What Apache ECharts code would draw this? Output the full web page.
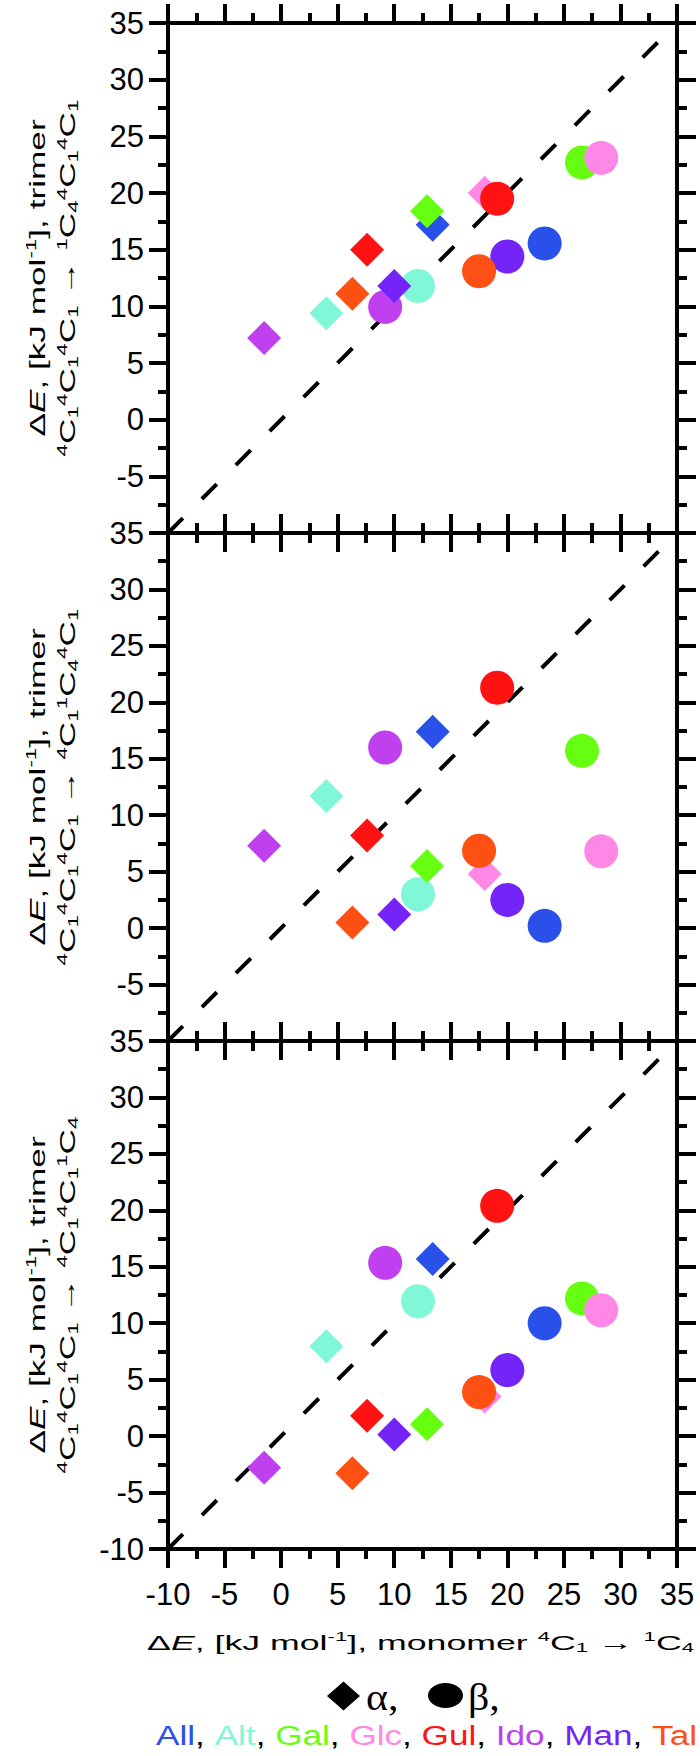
<!DOCTYPE html>
<html>
<head>
<meta charset="utf-8">
<script src="https://cdn.jsdelivr.net/npm/echarts@6/dist/echarts.min.js"></script>
<style>
html,body{margin:0;padding:0;background:#fff}
#c{width:700px;height:1756px}
</style>
</head>
<body>
<div id="c"></div>
<script>
// ---------------- data ----------------
const sugars = ['All', 'Alt', 'Gal', 'Glc', 'Gul', 'Ido', 'Man', 'Tal'];
const sugarColors = ['#2a50ea', '#80f8d8', '#66ff11', '#ff88e6', '#ff1212', '#c040f0', '#7424f6', '#ff5014'];

// x: monomer 4C1 -> 1C4 energy (kJ/mol)
const monomerAlpha = [13.4, 4.0, 12.9, 18.0, 7.6, -1.5, 10.0, 6.3];
const monomerBeta  = [23.3, 12.1, 26.6, 28.3, 19.1, 9.2, 20.0, 17.5];

// y: trimer 4C1 4C1 4C1 -> 1C4 4C1 4C1
const trimerAlpha1 = [17.2, 9.4, 18.4, 20.0, 15.0, 7.2, 11.8, 11.1];
const trimerBeta1  = [15.55, 11.8, 22.7, 23.1, 19.5, 9.95, 14.4, 13.1];
// y: trimer 4C1 4C1 4C1 -> 4C1 1C4 4C1
const trimerAlpha2 = [17.4, 11.7, 5.5, 4.8, 8.2, 7.3, 1.2, 0.5];
const trimerBeta2  = [0.2, 3.0, 15.7, 6.8, 21.3, 16.0, 2.5, 6.85];
// y: trimer 4C1 4C1 4C1 -> 4C1 4C1 1C4
const trimerAlpha3 = [15.7, 7.95, 1.05, 3.5, 1.8, -2.8, 0.15, -3.3];
const trimerBeta3  = [10.0, 11.95, 12.2, 11.15, 20.4, 15.35, 5.85, 3.9];

const startStates  = ['4C1', '4C1', '4C1'];
const targetStates = [['1C4', '4C1', '4C1'], ['4C1', '1C4', '4C1'], ['4C1', '4C1', '1C4']];

const axisMin = -10, axisMax = 35, axisStep = 5;
const diagonal = [[-10, -10], [35, 35]];

// ---------------- layout / style ----------------
const FONT = '"Liberation Sans", Arial, Helvetica, sans-serif';
const SERIF = '"Liberation Serif", "Times New Roman", serif';
const gridTops = [23, 533, 1041];
const gridHeights = [510, 508, 508];
const gridLeft = 168, gridRight = 23;

const panelsAlpha = [trimerAlpha1, trimerAlpha2, trimerAlpha3];
const panelsBeta = [trimerBeta1, trimerBeta2, trimerBeta3];

function richStyles(size) {
  const lh = Math.round(size * 1.15);
  const small = Math.round(size * 0.62);
  return {
    n: { fontSize: size, fontFamily: FONT, lineHeight: lh, fill: '#000' },
    i: { fontSize: size, fontFamily: FONT, fontStyle: 'italic', lineHeight: lh, fill: '#000' },
    sup: { fontSize: small, fontFamily: FONT, verticalAlign: 'top', lineHeight: Math.round(small * 1.1), fill: '#000' },
    sub: { fontSize: small, fontFamily: FONT, verticalAlign: 'bottom', lineHeight: Math.round(small * 0.75), fill: '#000' }
  };
}
function conf(c) { return '{sup|' + c[0] + '}{n|' + c[1] + '}{sub|' + c[2] + '}'; }
function confs(list) { return list.map(conf).join(''); }

const energyLabel = '{n|Δ}{i|E}{n|, [kJ mol}{sup|-1}{n|], }';
const yLine1 = energyLabel + '{n|trimer}';
const xNameText = energyLabel + '{n|monomer }' + conf('4C1') + '{n| → }' + conf('1C4');

function baseAxis(extra) {
  return Object.assign({
    type: 'value', min: axisMin, max: axisMax, interval: axisStep,
    axisLine: { show: true, onZero: false, lineStyle: { color: '#000', width: 4, cap: 'square' } },
    axisTick: { show: true, inside: false, length: 19, lineStyle: { color: '#000', width: 4 } },
    minorTick: { show: true, splitNumber: 2, length: 10, lineStyle: { color: '#000', width: 4 } },
    splitLine: { show: false },
    minorSplitLine: { show: false },
    axisLabel: { show: false }
  }, extra);
}

const grids = [], xAxes = [], yAxes = [], series = [], graphics = [];
for (let p = 0; p < 3; p++) {
  grids.push({ left: gridLeft, right: gridRight, top: gridTops[p], height: gridHeights[p], containLabel: false, outerBoundsMode: 'none' });
  xAxes.push(baseAxis({
    gridIndex: p, position: 'bottom',
    axisLabel: { show: p === 2, margin: 30, fontFamily: FONT, fontSize: 31, color: '#000' }
  }));
  xAxes.push(baseAxis({ gridIndex: p, position: 'top' }));
  yAxes.push(baseAxis({
    gridIndex: p, position: 'left',
    axisLabel: { show: true, margin: 24, fontFamily: FONT, fontSize: 31, color: '#000', showMinLabel: p === 2 }
  }));
  yAxes.push(baseAxis({ gridIndex: p, position: 'right' }));

  series.push({
    type: 'line', xAxisIndex: p * 2, yAxisIndex: p * 2, data: diagonal,
    symbol: 'none', silent: true, z: 2,
    lineStyle: { color: '#000', width: 4, type: [21, 27] }
  });
  for (let s = 0; s < sugars.length; s++) {
    series.push({
      name: sugars[s] + ' α', type: 'scatter', xAxisIndex: p * 2, yAxisIndex: p * 2,
      symbol: 'diamond', symbolSize: 34, silent: true, z: 3,
      itemStyle: { color: sugarColors[s], opacity: 1 },
      data: [[monomerAlpha[s], panelsAlpha[p][s]]]
    });
    series.push({
      name: sugars[s] + ' β', type: 'scatter', xAxisIndex: p * 2, yAxisIndex: p * 2,
      symbol: 'circle', symbolSize: 34, silent: true, z: 3,
      itemStyle: { color: sugarColors[s], opacity: 1 },
      data: [[monomerBeta[s], panelsBeta[p][s]]]
    });
  }

  const cy = gridTops[p] + gridHeights[p] / 2;
  graphics.push({
    type: 'text', x: 37, y: cy, rotation: Math.PI / 2, scaleX: 1.6, silent: true,
    style: { text: yLine1, rich: richStyles(22), align: 'center', verticalAlign: 'middle', fill: '#000' }
  });
  graphics.push({
    type: 'text', x: 67.5, y: cy, rotation: Math.PI / 2, scaleX: 1.6, silent: true,
    style: { text: confs(startStates) + '{n| → }' + confs(targetStates[p]), rich: richStyles(22), align: 'center', verticalAlign: 'middle', fill: '#000' }
  });
}

// x axis title
graphics.push({
  type: 'text', x: 420.5, y: 1642, scaleX: 1.70, silent: true,
  style: { text: xNameText, rich: richStyles(21), align: 'center', verticalAlign: 'middle', fill: '#000' }
});

// legend line 1: α / β symbol keys
graphics.push({
  type: 'polygon', silent: true,
  shape: { points: [[343.5, 1681.5], [360, 1696], [343.5, 1710.5], [327, 1696]] },
  style: { fill: '#000' }
});
graphics.push({
  type: 'text', x: 366, y: 1697, scaleX: 1.1, silent: true,
  style: { text: 'α,', fontFamily: SERIF, fontSize: 38, align: 'left', verticalAlign: 'middle', fill: '#000' }
});
graphics.push({
  type: 'ellipse', silent: true,
  shape: { cx: 445.5, cy: 1695.5, rx: 17.5, ry: 12.5 },
  style: { fill: '#000' }
});
graphics.push({
  type: 'text', x: 468, y: 1697, scaleX: 1.1, silent: true,
  style: { text: 'β,', fontFamily: SERIF, fontSize: 38, align: 'left', verticalAlign: 'middle', fill: '#000' }
});

// legend line 2: coloured sugar names
const legendRich = { c: { fontSize: 28, fontFamily: FONT, fill: '#000' } };
let legendText = '';
sugars.forEach(function (s, k) {
  legendRich['s' + k] = { fontSize: 28, fontFamily: FONT, fill: sugarColors[k] };
  legendText += '{s' + k + '|' + s + '}' + (k < sugars.length - 1 ? '{c|, }' : '');
});
graphics.push({
  type: 'text', x: 697, y: 1735, scaleX: 1.255, silent: true,
  style: { text: legendText, rich: legendRich, align: 'right', verticalAlign: 'middle' }
});

const chart = echarts.init(document.getElementById('c'), null, { renderer: 'svg' });
chart.setOption({
  animation: false,
  backgroundColor: '#fff',
  grid: grids,
  xAxis: xAxes,
  yAxis: yAxes,
  series: series,
  graphic: graphics
});
</script>
</body>
</html>
